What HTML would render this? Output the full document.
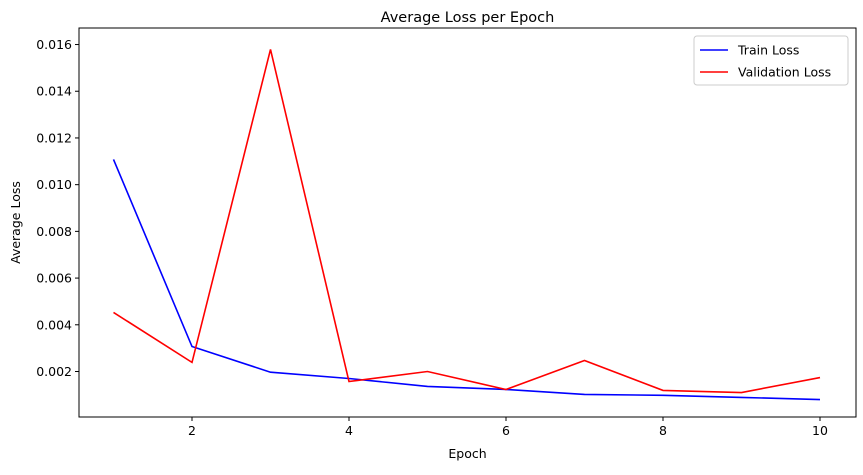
<!DOCTYPE html>
<html><head><meta charset="utf-8"><style>
body{margin:0;background:#fff;font-family:"Liberation Sans","DejaVu Sans",sans-serif;}
svg text{font-family:"DejaVu Sans","Liberation Sans",sans-serif;}
</style></head><body>
<svg id="chart" width="863" height="470" xmlns="http://www.w3.org/2000/svg"></svg>
<script>
const epochs=[1,2,3,4,5,6,7,8,9,10];
const trainLoss=[0.01108,0.00307,0.00197,0.0017,0.00136,0.00123,0.00102,0.00098,0.00089,0.0008];
const valLoss=[0.00453,0.00239,0.01579,0.00157,0.002,0.00123,0.00247,0.00119,0.0011,0.00174];
const yTicks=[0.002,0.004,0.006,0.008,0.010,0.012,0.014,0.016];
const xTicks=[2,4,6,8,10];
const NS="http://www.w3.org/2000/svg";
const svg=document.getElementById('chart');
const L=79,R=856,T=28,B=417;
function xs(v){return 192+(v-2)*78.5;}
function ys(v){return 371.5-(v-0.002)/0.002*46.71;}
function mk(tag,attrs,parent){const e=document.createElementNS(NS,tag);for(const k in attrs)e.setAttribute(k,attrs[k]);(parent||svg).appendChild(e);return e;}
let t=mk('text',{x:(L+R)/2,y:22,'text-anchor':'middle','font-size':14.5,fill:'#000'});t.textContent='Average Loss per Epoch';


yTicks.forEach(v=>{const y=ys(v);mk('line',{x1:L-4,x2:L,y1:y,y2:y,stroke:'#000'});
const tx=mk('text',{x:L-7,y:y+4.5,'text-anchor':'end','font-size':12.5});tx.textContent=v.toFixed(3);

});
xTicks.forEach(v=>{const x=xs(v);mk('line',{x1:x,x2:x,y1:B,y2:B+4,stroke:'#000'});
const tx=mk('text',{x:x,y:B+18,'text-anchor':'middle','font-size':12.5});tx.textContent=v;

});
const xl=mk('text',{x:(L+R)/2,y:458,'text-anchor':'middle','font-size':12.5});xl.textContent='Epoch';


const yl=mk('text',{x:0,y:0,'text-anchor':'middle','font-size':12.5,transform:`translate(20,${(T+B)/2}) rotate(-90)`});yl.textContent='Average Loss';


function line(data,color,name){const p=mk('polyline',{points:data.map((v,i)=>xs(epochs[i])+','+ys(v)).join(' '),fill:'none',stroke:color,'stroke-width':1.6});

}
line(trainLoss,'#0000ff','train-loss-line');
line(valLoss,'#ff0000','validation-loss-line');
const frame=mk('rect',{x:L,y:T,width:R-L,height:B-T,fill:'none',stroke:'#000','stroke-width':1});


const lg=mk('g',{});


mk('rect',{x:694,y:36,width:154,height:49,rx:3,fill:'#fff',stroke:'#ccc'},lg);
[['Train Loss','#0000ff',50],['Validation Loss','#ff0000',72]].forEach(([n,c,y])=>{
mk('line',{x1:700,x2:728,y1:y,y2:y,stroke:c,'stroke-width':1.6},lg);
const tx=mk('text',{x:738,y:y+4.5,'font-size':12.5},lg);tx.textContent=n;

});
</script>
</body></html>
